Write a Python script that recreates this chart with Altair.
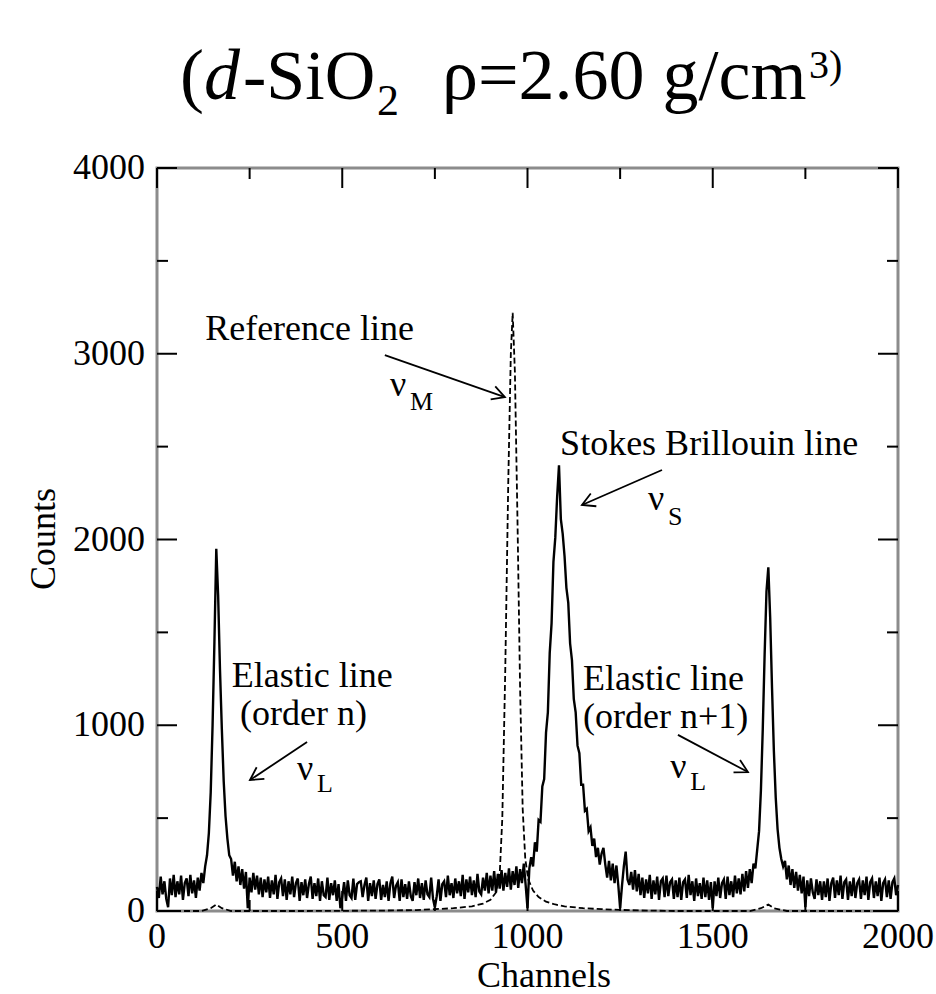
import altair as alt
import pandas as pd

# ---------------- data ----------------
channels = list(range(0, 2001, 5))
counts = [
    130, 70, 185, 90, 160, 65, 20, 175, 85, 195, 75, 160, 90, 190, 60, 150, 175, 80, 195, 95,
    165, 70, 180, 110, 205, 150, 240, 300, 420, 640, 1000, 1450, 1950, 1700, 1300, 980, 700, 510, 390, 300,
    280, 190, 265, 160, 240, 140, 225, 120, 210, 15, 180, 100, 205, 115, 190, 90, 180, 75, 170, 100,
    185, 70, 165, 90, 195, 65, 155, 175, 80, 170, 60, 160, 90, 185, 75, 150, 175, 55, 155, 85,
    170, 70, 145, 185, 65, 150, 80, 175, 55, 160, 85, 75, 180, 60, 150, 85, 165, 55, 145, 15,
    75, 155, 55, 165, 85, 70, 175, 60, 145, 155, 160, 75, 140, 180, 55, 150, 80, 165, 65, 145,
    170, 60, 140, 75, 160, 55, 150, 185, 70, 135, 155, 55, 170, 75, 145, 65, 160, 80, 55, 155,
    85, 175, 70, 150, 60, 165, 90, 75, 180, 65, 20, 80, 170, 55, 145, 160, 75, 190, 85, 150,
    70, 175, 95, 160, 80, 195, 65, 170, 100, 185, 85, 165, 75, 200, 105, 90, 180, 110, 205, 95,
    190, 110, 215, 100, 200, 120, 220, 110, 205, 130, 230, 115, 215, 140, 240, 125, 225, 150, 255, 140,
    15, 230, 290, 240, 370, 320, 490, 480, 670, 710, 960, 1070, 1390, 1550, 1880, 2010, 2230, 2400, 2110, 2030,
    1910, 1740, 1660, 1440, 1350, 1140, 1070, 890, 850, 680, 680, 540, 550, 430, 450, 350, 390, 290, 340, 250,
    310, 340, 250, 180, 270, 165, 255, 150, 245, 140, 15, 135, 240, 320, 170, 140, 210, 115, 220, 105,
    200, 85, 180, 70, 170, 95, 195, 65, 165, 90, 185, 60, 160, 175, 75, 190, 80, 155, 170, 65,
    165, 75, 180, 60, 155, 170, 70, 195, 85, 160, 55, 175, 80, 150, 65, 180, 75, 165, 60, 155,
    15, 160, 80, 180, 70, 150, 170, 65, 185, 85, 160, 75, 190, 95, 175, 90, 200, 105, 215, 125,
    225, 150, 255, 230, 330, 430, 650, 980, 1380, 1720, 1850, 1580, 1200, 860, 610, 440, 340, 280, 240, 270,
    170, 245, 140, 225, 125, 210, 110, 195, 95, 185, 20, 165, 80, 175, 100, 65, 170, 85, 160, 60,
    160, 75, 175, 55, 150, 180, 70, 165, 85, 190, 65, 155, 170, 60, 160, 80, 180, 70, 150, 170,
    65, 165, 85, 185, 60, 155, 175, 70, 160, 80, 180, 55, 150, 170, 75, 165, 65, 155, 175, 85,
    140,
]

ref_channels = [0, 120, 145, 160, 175, 200, 400, 600, 700, 800, 850, 880, 900, 915,
                925, 932, 940, 948, 955, 960, 966, 973, 980, 987, 994, 1002,
                1015, 1030, 1050, 1075, 1100, 1150, 1200, 1250, 1300, 1400,
                1600, 1630, 1650, 1665, 1700, 2000]
ref_counts = [0, 0, 15, 35, 15, 0, 0, 2, 5, 15, 25, 40, 60, 100,
              200, 500, 1300, 2300, 3000, 3220, 2900, 2100, 1200, 550, 280, 170,
              110, 75, 50, 35, 25, 15, 10, 6, 3, 0,
              0, 15, 35, 15, 0, 0]

x_major = [0, 500, 1000, 1500, 2000]
x_minor = [250, 750, 1250, 1750]
y_major = [0, 1000, 2000, 3000, 4000]
y_minor = [500, 1500, 2500, 3500]

assert len(counts) == len(channels)
assert len(ref_counts) == len(ref_channels)

# ---------------- layout ----------------
W, H = 741, 743
FONT = "Liberation Serif"
xs = alt.Scale(domain=[0, 2000], nice=False, zero=False)
ys = alt.Scale(domain=[0, 4000], nice=False)
one = pd.DataFrame({"k": [0]})

spec_df = pd.DataFrame({"ch": channels, "counts": counts})
ref_df = pd.DataFrame({"ch": ref_channels, "counts": ref_counts})

ref = alt.Chart(ref_df).mark_line(color="black", strokeWidth=1.8, strokeDash=[6, 3]).encode(
    x=alt.X("ch:Q", scale=xs, axis=None),
    y=alt.Y("counts:Q", scale=ys, axis=None),
    order="ch:Q",
)

main = alt.Chart(spec_df).mark_line(color="black", strokeWidth=2.4).encode(
    x=alt.X("ch:Q", scale=xs, axis=None),
    y=alt.Y("counts:Q", scale=ys, axis=None),
    order="ch:Q",
)


def xticks(vals, ypix, ypix2):
    return alt.Chart(pd.DataFrame({"v": vals})).mark_rule(color="black", strokeWidth=2).encode(
        x=alt.X("v:Q", scale=xs, axis=None),
        y=alt.value(ypix), y2=alt.value(ypix2))


def yticks(vals, xpix, xpix2):
    return alt.Chart(pd.DataFrame({"v": vals})).mark_rule(color="black", strokeWidth=2).encode(
        y=alt.Y("v:Q", scale=ys, axis=None),
        x=alt.value(xpix), x2=alt.value(xpix2))


ticks = [
    xticks(x_major, H, H - 20), xticks(x_minor, H, H - 11),
    xticks(x_major, 0, 20), xticks(x_minor, 0, 11),
    yticks(y_major, 0, 20), yticks(y_minor, 0, 11),
    yticks(y_major, W, W - 20), yticks(y_minor, W, W - 11),
]

# tick labels drawn through the scales
xlab_df = pd.DataFrame({"v": x_major, "t": [str(v) for v in x_major]})
ylab_df = pd.DataFrame({"v": y_major, "t": [str(v) for v in y_major]})
xlabels = alt.Chart(xlab_df).mark_text(
    font=FONT, fontSize=36, color="black", align="center", baseline="alphabetic"
).encode(x=alt.X("v:Q", scale=xs, axis=None), y=alt.value(H + 37), text="t:N")
ylabels = alt.Chart(ylab_df).mark_text(
    font=FONT, fontSize=36, color="black", align="right", baseline="middle"
).encode(y=alt.Y("v:Q", scale=ys, axis=None), x=alt.value(-12), text="t:N")


def label(text, ch, cnt, size=36):
    return alt.Chart(one).mark_text(
        text=text, font=FONT, fontSize=size, color="black", align="left", baseline="alphabetic"
    ).encode(x=alt.datum(ch), y=alt.datum(cnt))


def arrow(c1, n1, c2, n2, ang):
    line = alt.Chart(one).mark_rule(color="black", strokeWidth=1.8).encode(
        x=alt.datum(c1), y=alt.datum(n1), x2=alt.datum(c2), y2=alt.datum(n2))
    head = alt.Chart(one).mark_point(
        shape="M -1 -0.55 L 0 0 L -1 0.55", filled=False, color="black",
        strokeWidth=1.8, size=640, opacity=1
    ).encode(x=alt.datum(c2), y=alt.datum(n2), angle=alt.value(ang))
    return [line, head]


notes = [
    label("Reference line", 130, 3074),
    label("ν", 629, 2773), label("M", 683, 2697, 26),
    label("Stokes Brillouin line", 1088, 2455),
    label("ν", 1325, 2159), label("S", 1379, 2078, 26),
    label("Elastic line", 202, 1206), label("(order n)", 224, 1001),
    label("ν", 378, 705), label("L", 432, 641, 26),
    label("Elastic line", 1150, 1190), label("(order n+1)", 1150, 985),
    label("ν", 1385, 716), label("L", 1439, 651, 26),
]
arrows = (arrow(615, 2993, 939, 2767, 19.3) + arrow(1363, 2374, 1147, 2186, 156.4)
          + arrow(405, 910, 251, 705, 146.3) + arrow(1406, 948, 1595, 748, 27.9))


def ptext(text, px, py, size, style="normal", angle=0, align="left"):
    return alt.Chart(one).mark_text(
        text=text, font=FONT, fontSize=size, fontStyle=style, color="black",
        align=align, baseline="alphabetic", angle=angle
    ).encode(x=alt.value(px), y=alt.value(py))


# title pieces and axis titles (pixel positions relative to the plot origin)
OX, OY = 157, 168
title = [
    ptext("(", 180 - OX, 99 - OY, 72),
    ptext("d", 204 - OX, 99 - OY, 72, "italic"),
    ptext("-SiO", 243 - OX, 99 - OY, 70),
    ptext("2", 377 - OX, 115 - OY, 44),
    ptext("ρ=2.60 g/cm", 442 - OX, 99 - OY, 72),
    ptext("3)", 809 - OX, 78 - OY, 40),
    ptext("Channels", 544 - OX, 987 - OY, 36, align="center"),
    ptext("Counts", 55 - OX, 539 - OY, 36, angle=270, align="center"),
]

chart = alt.layer(ref, main, *ticks, xlabels, ylabels, *notes, *arrows, *title).properties(
    width=W, height=H,
    padding={"left": OX, "top": OY, "right": 936 - OX - W, "bottom": 994 - OY - H},
    autosize=alt.AutoSizeParams(type="none"),
    background="white",
).configure_view(
    stroke="#8c8c8c", strokeWidth=3
).configure_axis(
    disable=True
)

chart.save("out.html", embed_options={"renderer": "svg", "actions": False})
